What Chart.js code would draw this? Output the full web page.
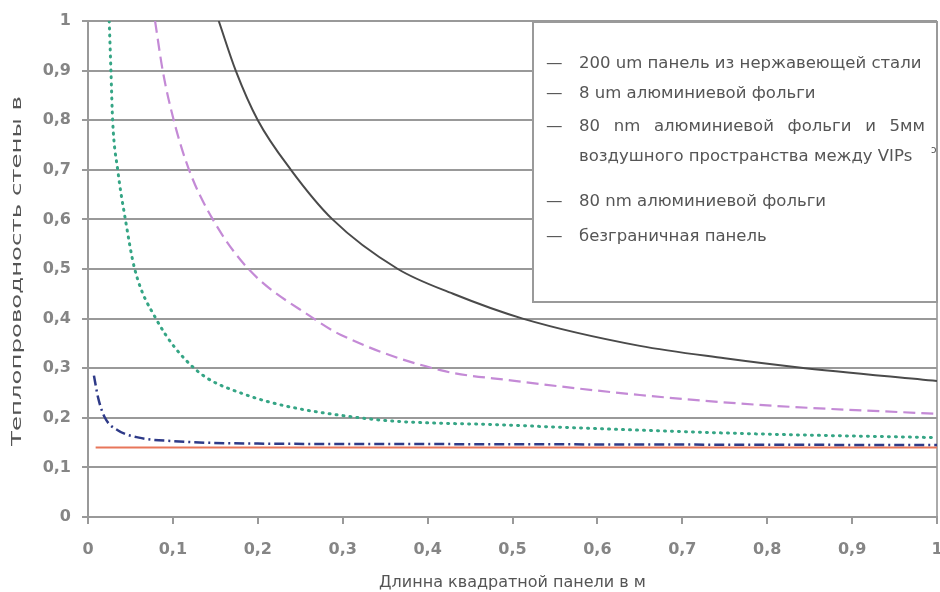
<!DOCTYPE html>
<html>
<head>
<meta charset="utf-8">
<script src="https://cdn.jsdelivr.net/npm/chart.js@4"></script>
<style>
  html, body { margin: 0; padding: 0; background: #fff; }
  #wrap { width: 940px; height: 592px; }
</style>
</head>
<body>
<div id="wrap"><canvas id="chart" width="940" height="592"></canvas></div>
<script>
// series (x = panel length, m; y = wall conductivity)
const steelX = [0.154, 0.174, 0.2, 0.239, 0.288, 0.365, 0.43, 0.512, 0.65, 0.75, 0.835, 1.0];
const steelY = [1.0, 0.9, 0.8, 0.7, 0.6, 0.5, 0.45, 0.4, 0.345, 0.32, 0.302, 0.274];

const foil8X = [0.079, 0.088, 0.101, 0.119, 0.147, 0.189, 0.266, 0.298, 0.415, 0.5, 0.65, 0.8, 1.0];
const foil8Y = [1.0, 0.9, 0.8, 0.7, 0.6, 0.5, 0.4, 0.367, 0.296, 0.275, 0.246, 0.225, 0.208];

const airX = [0.025, 0.027, 0.029, 0.035, 0.044, 0.055, 0.08, 0.125, 0.18, 0.32, 0.5, 0.65, 0.8, 1.0];
const airY = [1.0, 0.9, 0.8, 0.7, 0.6, 0.5, 0.4, 0.3, 0.25, 0.2, 0.185, 0.175, 0.167, 0.16];

const nmX = [0.007, 0.012, 0.02, 0.035, 0.06, 0.1, 0.2, 0.4, 0.7, 1.0];
const nmY = [0.285, 0.24, 0.2, 0.175, 0.16, 0.153, 0.148, 0.147, 0.146, 0.145];

const infX = [0.009, 1.0];
const infY = [0.14, 0.14];

const legendLines = [
  ["200 um панель из нержавеющей стали"],
  ["8 um алюминиевой фольги"],
  ["80 nm алюминиевой фольги и 5мм", "воздушного пространства между VIPs"],
  ["80 nm алюминиевой фольги"],
  ["безграничная панель"]
];

const xTitle = "Длинна квадратной панели в м";
const yTitle = "Теплопроводность стены в";

function pts(xs, ys) { return xs.map((x, i) => ({ x: x, y: ys[i] })); }
function comma(v) { return Number(v.toFixed(1)).toString().replace(".", ","); }

// boxed legend + stretched y title, as in the original figure
const boxLegend = {
  id: "boxLegend",
  afterDraw(chart) {
    const c = chart.ctx;
    c.save();
    c.fillStyle = "#fff";
    c.fillRect(533, 22, 404, 280);
    c.strokeStyle = "#9a9a9a";
    c.lineWidth = 2;
    c.strokeRect(533, 22, 404, 280);
    c.font = "16.5px 'DejaVu Sans'";
    c.fillStyle = "#555";
    c.textBaseline = "middle";
    const rows = [[64], [94], [127, 157], [202], [237]];
    const right = 925;
    legendLines.forEach((lines, i) => {
      c.fillText("—", 546, rows[i][0]);
      lines.forEach((ln, j) => {
        const y = rows[i][j];
        if (j === 0 && lines.length > 1) {
          const words = ln.split(" ");
          const total = words.reduce((s, w) => s + c.measureText(w).width, 0);
          const gap = (right - 579 - total) / (words.length - 1);
          let x = 579;
          words.forEach(w => { c.fillText(w, x, y); x += c.measureText(w).width + gap; });
        } else {
          c.fillText(ln, 579, y);
        }
      });
    });
    c.font = "10px 'DejaVu Sans'";
    c.fillText("ɔ", 931, 150);

    // y title, long and narrow like the source
    c.font = "14px 'DejaVu Sans'";
    c.fillStyle = "#555";
    c.textAlign = "center";
    const w = c.measureText(yTitle).width;
    c.translate(17, 271);
    c.rotate(-Math.PI / 2);
    c.scale(350 / w, 1);
    c.fillText(yTitle, 0, 0);
    c.restore();
  }
};

new Chart(document.getElementById("chart").getContext("2d"), {
  type: "line",
  data: {
    datasets: [
      { label: legendLines[0].join(" "), data: pts(steelX, steelY), borderColor: "#4a4a4a", borderWidth: 2 },
      { label: legendLines[1].join(" "), data: pts(foil8X, foil8Y), borderColor: "#c48ad6", borderWidth: 2.2, borderDash: [12, 6] },
      { label: legendLines[2].join(" "), data: pts(airX, airY), borderColor: "#35a585", borderWidth: 3, borderDash: [1, 6], borderCapStyle: "round" },
      { label: legendLines[3].join(" "), data: pts(nmX, nmY), borderColor: "#2e3a88", borderWidth: 2.5, borderDash: [10, 4, 2, 4] },
      { label: legendLines[4].join(" "), data: pts(infX, infY), borderColor: "#e8765a", borderWidth: 2 }
    ]
  },
  options: {
    responsive: false,
    animation: false,
    elements: { point: { radius: 0 }, line: { cubicInterpolationMode: "monotone" } },
    layout: { padding: { top: 21, right: 3, left: 0, bottom: 0 } },
    plugins: { legend: { display: false }, tooltip: { enabled: false } },
    scales: {
      x: {
        type: "linear",
        min: 0,
        max: 1,
        afterFit: s => { s.height = 75; s.paddingLeft = 0; s.paddingRight = 0; },
        ticks: { stepSize: 0.1, padding: 16, color: "#858585", font: { family: "DejaVu Sans", size: 16, weight: "bold" }, callback: v => comma(v), maxRotation: 0 },
        grid: {
          drawOnChartArea: true,
          color: ctx => (ctx.tick && ctx.tick.value === 1 ? "#aaa" : "rgba(0,0,0,0)"),
          tickColor: "#999",
          tickLength: 7,
          lineWidth: 2
        },
        border: { color: "#999", width: 2 },
        title: { display: true, text: xTitle, color: "#555", font: { family: "DejaVu Sans", size: 16 }, padding: { top: 0, bottom: 0 } }
      },
      y: {
        min: 0,
        max: 1,
        afterFit: s => { s.width = 88; },
        ticks: { stepSize: 0.1, padding: 11, color: "#858585", font: { family: "DejaVu Sans", size: 16, weight: "bold" }, callback: v => comma(v) },
        grid: { color: "#999", lineWidth: 2, tickLength: 6 },
        border: { color: "#999", width: 2 },
        title: { display: false }
      }
    }
  },
  plugins: [boxLegend]
});
</script>
</body>
</html>
